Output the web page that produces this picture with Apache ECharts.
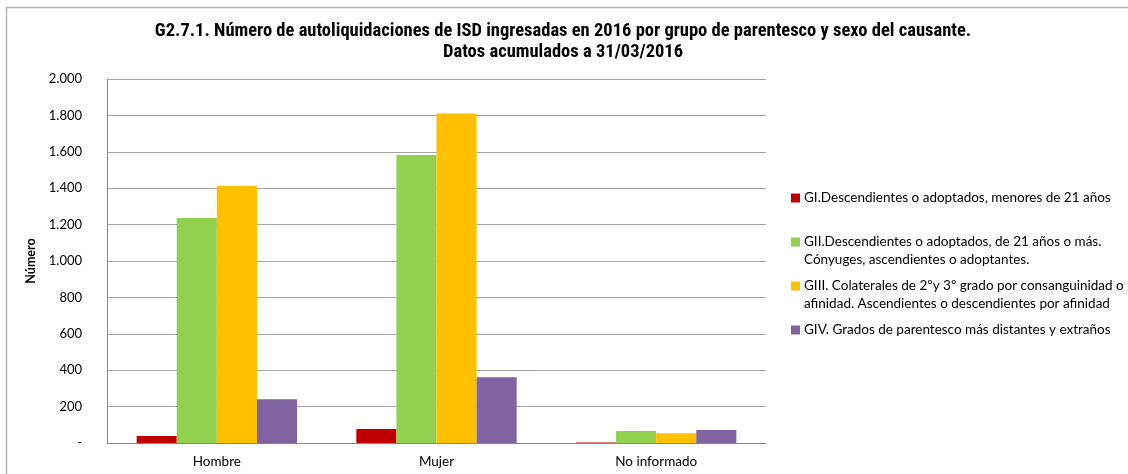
<!DOCTYPE html>
<html>
<head>
<meta charset="utf-8">
<script src="https://cdn.jsdelivr.net/npm/echarts@6/dist/echarts.min.js"></script>
<style>
  html, body { margin: 0; padding: 0; background: #fff; }
  #chart { width: 1128px; height: 474px; }
</style>
</head>
<body>
<div id="chart"></div>
<script>
// Categories (sexo del causante)
const categories = ['Hombre', 'Mujer', 'No informado'];

// Series names (grupo de parentesco)
const seriesNames = [
  'GI.Descendientes o adoptados, menores de 21 años',
  'GII.Descendientes o adoptados, de 21 años o más.\nCónyuges, ascendientes o adoptantes.',
  'GIII. Colaterales de 2ºy 3º grado por consanguinidad o\nafinidad. Ascendientes o descendientes por afinidad',
  'GIV. Grados de parentesco más distantes y extraños'
];

// Values per group
const gI   = [38, 77, 3];
const gII  = [1236, 1582, 66];
const gIII = [1412, 1811, 53];
const gIV  = [240, 361, 71];

const colors = ['#C00000', '#92D050', '#FFC000', '#8064A2'];

const font = 'Lato, "Open Sans", "Liberation Sans", sans-serif';

function fmt(v) {
  if (v === 0) return '-';
  return String(v).replace(/\B(?=(\d{3})+(?!\d))/g, '.');
}

const values = [gI, gII, gIII, gIV];
const legendTops = [184, 228, 272, 316];

// square marker pinned to the first text line (for two-line entries)
const squareTop = 'path://M0,0L9,0L9,9L0,9Z M0,27L0.01,27';

const chart = echarts.init(document.getElementById('chart'), null, { renderer: 'canvas' });

chart.setOption({
  animation: false,
  backgroundColor: '#fff',
  title: {
    text: 'G2.7.1. Número de autoliquidaciones de ISD ingresadas en 2016 por grupo de parentesco y sexo del causante.\nDatos acumulados a 31/03/2016',
    left: 558,
    top: 15.5,
    textAlign: 'center',
    textStyle: {
      fontFamily: '"Liberation Sans Narrow", "Roboto Condensed", "Arial Narrow", sans-serif',
      fontSize: 18.5,
      fontWeight: 'bold',
      color: '#000',
      lineHeight: 21
    }
  },
  legend: values.map((_, i) => {
    const twoLines = seriesNames[i].indexOf('\n') >= 0;
    return {
      data: [{ name: seriesNames[i], icon: twoLines ? squareTop : 'rect' }],
      left: 786,
      top: legendTops[i],
      orient: 'vertical',
      itemWidth: 9,
      itemHeight: twoLines ? 27 : 9,
      itemGap: 6,
      textStyle: { fontFamily: font, fontSize: 13.5, color: '#000', lineHeight: 18, padding: [0, 0, 0, -1] },
      selectedMode: false
    };
  }),
  grid: { left: 107, right: 362, top: 79, bottom: 31 },
  xAxis: {
    type: 'category',
    data: categories,
    axisLine: { lineStyle: { color: '#868686', width: 1 } },
    axisTick: { show: false },
    axisLabel: { fontFamily: font, fontSize: 13.5, color: '#000', margin: 12 }
  },
  yAxis: {
    type: 'value',
    min: 0,
    max: 2000,
    interval: 200,
    name: 'Número',
    nameLocation: 'middle',
    nameGap: 68,
    nameRotate: 90,
    nameTextStyle: { fontFamily: font, fontSize: 12.5, fontWeight: 'bold', color: '#000' },
    axisLine: { show: true, lineStyle: { color: '#868686', width: 1 } },
    axisTick: { show: false },
    axisLabel: { fontFamily: font, fontSize: 13, color: '#000', margin: 25, formatter: fmt },
    splitLine: { lineStyle: { color: '#a6a6a6', width: 1 } }
  },
  series: values.map((d, i) => ({
    name: seriesNames[i],
    type: 'bar',
    data: d,
    barGap: '0%',
    barCategoryGap: '27%',
    itemStyle: { color: colors[i] }
  })),
  graphic: [{
    type: 'rect',
    shape: { x: 6.5, y: 7.5, width: 1200, height: 500 },
    style: { fill: 'none', stroke: '#b4b4b4', lineWidth: 1.5 },
    silent: true
  }]
});
</script>
</body>
</html>
